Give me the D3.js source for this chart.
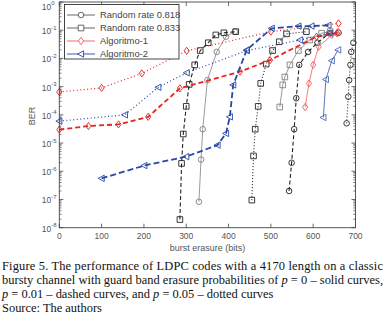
<!DOCTYPE html>
<html>
<head>
<meta charset="utf-8">
<script src="https://cdn.jsdelivr.net/npm/d3@7"></script>
<style>
	body { margin: 0; background: #fff; }
	svg { display: block; }
	.tick-label { font-family: "Liberation Sans", Arial, sans-serif; font-size: 8.5px; fill: #555; }
	.legend-label { font-family: "Liberation Sans", Arial, sans-serif; font-size: 9.4px; fill: #444; }
	.caption { font-family: "Liberation Serif", "Times New Roman", serif; font-size: 13px; fill: #111; }
</style>
</head>
<body>
<div id="chart"></div>
<script>
// ---- data ----
let xTicks = [0, 100, 200, 300, 400, 500, 600, 700];
let yExponents = [0, -1, -2, -3, -4, -5, -6, -7, -8];

// Random rate 0.818 (circles)
let r818SolidX = [330, 335, 339, 350, 372, 394, 415];
let r818SolidY = [8.3e-8, 2.6e-6, 3.1e-5, 1.7e-3, 1.7e-2, 5.9e-2, 8.9e-2];
let r818DashX = [543, 549, 555, 560, 567, 588, 610, 638, 660];
let r818DashY = [2.0e-7, 2.0e-6, 3.1e-5, 3.9e-4, 5.9e-3, 1.7e-2, 3.6e-2, 7.8e-2, 8.1e-2];
let r818DotX = [679, 683, 685, 688, 690, 695];
let r818DotY = [5.0e-5, 4.4e-4, 1.7e-3, 5.9e-3, 1.7e-2, 3.6e-2];

// Random rate 0.833 (squares)
let r833SolidX = [521, 528, 533, 545, 565, 592, 620, 640];
let r833SolidY = [1.9e-4, 1.15e-3, 2.2e-3, 5.9e-3, 1.9e-2, 4.5e-2, 7.8e-2, 8.9e-2];
let r833DashX = [285, 289, 293, 300, 307, 320, 333, 352, 370, 389, 417];
let r833DashY = [1.95e-8, 1.9e-6, 2.1e-5, 2.0e-4, 1.2e-3, 5.9e-3, 1.9e-2, 3.6e-2, 6.8e-2, 8.1e-2, 8.9e-2];
let r833DotX = [455, 459, 463, 470, 476, 489, 504, 520, 537, 584];
let r833DotY = [9.5e-8, 3.5e-6, 3.1e-5, 2.0e-4, 1.3e-3, 6.3e-3, 1.9e-2, 3.9e-2, 7.4e-2, 8.9e-2];

// Algoritmo-1 (diamonds)
let alg1SolidX = [581, 590, 600, 613, 644, 659];
let alg1SolidY = [1.9e-4, 1.3e-3, 5.9e-3, 2.6e-2, 6.8e-2, 8.9e-2];
let alg1DashX = [0, 69, 140, 210, 285, 427, 498, 608, 656];
let alg1DashY = [3.0e-5, 4.0e-5, 4.6e-5, 8.5e-5, 8.7e-4, 3.4e-3, 8.7e-3, 5.9e-2, 7.8e-2];
let alg1DotX = [0, 100, 195, 301, 500, 660];
let alg1DotY = [6.5e-4, 9.0e-4, 2.95e-3, 1.86e-2, 8.9e-2, 1.74e-1];

// Algoritmo-2 (left triangles)
let alg2SolidX = [624, 630, 644, 659];
let alg2SolidY = [8.1e-5, 1.8e-3, 8.3e-3, 2.0e-2];
let alg2DashX = [100, 201, 300, 374, 394, 403, 411, 443, 502, 565, 596, 636];
let alg2DashY = [5.6e-7, 1.6e-6, 3.3e-6, 8.5e-6, 2.2e-5, 8.5e-5, 1.15e-3, 2.0e-2, 1.17e-1, 1.4e-1, 1.4e-1, 1.5e-1];
let alg2DotX = [0, 155, 234, 301, 443, 569, 640];
let alg2DotY = [6.0e-5, 1.0e-4, 9.5e-4, 3.1e-3, 1.9e-2, 4.5e-2, 7.9e-2];

let legendNames = ["Random rate 0.818", "Random rate 0.833", "Algoritmo-1", "Algoritmo-2"];

// caption lines; the first two are justified to the full width
let captionLines = [
	[["Figure 5. The performance of LDPC codes with a 4170 length on a classic", false]],
	[["bursty channel with guard band erasure probabilities of ", false], ["p", true], [" = 0 \u2013 solid curves,", false]],
	[["p", true], [" = 0.01 \u2013 dashed curves, and ", false], ["p", true], [" = 0.05 \u2013 dotted curves", false]],
	[["Source: The authors", false]]
];
let captionJustified = [true, true, false, false];

// ---- styles per series ----
let styles = {
	grayS:  { color: "#808080", width: 0.8, dash: null },
	blackD: { color: "#222", width: 1.1, dash: "4,2.5" },
	blackO: { color: "#222", width: 1.1, dash: "1,2" },
	redS:   { color: "#f25a5a", width: 0.8, dash: null },
	redD:   { color: "#e8231e", width: 1.8, dash: "5,3" },
	redO:   { color: "#e8231e", width: 1.2, dash: "1,2.5" },
	blueS:  { color: "#4a66b5", width: 0.9, dash: null },
	blueD:  { color: "#2848a6", width: 1.8, dash: "6,3" },
	blueO:  { color: "#2848a6", width: 1.2, dash: "1,2.5" }
};

let series = [
	{ x: r818SolidX, y: r818SolidY, style: styles.grayS, marker: "circle" },
	{ x: r818DashX, y: r818DashY, style: styles.blackD, marker: "circle" },
	{ x: r818DotX, y: r818DotY, style: styles.blackO, marker: "circle" },
	{ x: r833SolidX, y: r833SolidY, style: styles.grayS, marker: "square" },
	{ x: r833DashX, y: r833DashY, style: styles.blackD, marker: "square" },
	{ x: r833DotX, y: r833DotY, style: styles.blackO, marker: "square" },
	{ x: alg1SolidX, y: alg1SolidY, style: styles.redS, marker: "diamond" },
	{ x: alg1DashX, y: alg1DashY, style: styles.redD, marker: "diamond" },
	{ x: alg1DotX, y: alg1DotY, style: styles.redO, marker: "diamond" },
	{ x: alg2SolidX, y: alg2SolidY, style: styles.blueS, marker: "triangle" },
	{ x: alg2DashX, y: alg2DashY, style: styles.blueD, marker: "triangle" },
	{ x: alg2DotX, y: alg2DotY, style: styles.blueO, marker: "triangle" }
];

let legendItems = [
	{ color: "#555", marker: "circle" },
	{ color: "#555", marker: "square" },
	{ color: "#f25a5a", marker: "diamond" },
	{ color: "#2848a6", marker: "triangle" }
];

// ---- layout ----
let width = 385, height = 315;
let plot = { left: 59.3, right: 355.5, top: 2, bottom: 227.7 };

let svg = d3.select("#chart").append("svg")
	.attr("width", width)
	.attr("height", height);

let x = d3.scaleLinear().domain([0, 700]).range([plot.left, plot.right]);
let y = d3.scaleLog().domain([1e-8, 1]).range([plot.bottom, plot.top]);

// marker path at origin
function markerPath(type) {
	let p = d3.path();
	if (type === "circle") {
		p.arc(0, 0, 2.8, 0, 2 * Math.PI);
	} else if (type === "square") {
		p.rect(-2.8, -2.8, 5.6, 5.6);
	} else if (type === "diamond") {
		p.moveTo(0, -3.6); p.lineTo(2.6, 0); p.lineTo(0, 3.6); p.lineTo(-2.6, 0); p.closePath();
	} else {
		p.moveTo(-3.4, 0); p.lineTo(2.6, -3.2); p.lineTo(2.6, 3.2); p.closePath();
	}
	return p.toString();
}

// ---- axes box & ticks ----
let axisColor = "#444";
let g = svg.append("g");

// minor log ticks
let minor = [];
for (let e = -8; e < 0; e++) {
	for (let k = 2; k <= 9; k++) minor.push(k * Math.pow(10, e));
}
minor.forEach(v => {
	[[plot.left, plot.left + 2.2], [plot.right, plot.right - 2.2]].forEach(s => {
		g.append("line")
			.attr("x1", s[0]).attr("x2", s[1])
			.attr("y1", y(v)).attr("y2", y(v))
			.attr("stroke", axisColor).attr("stroke-width", 0.7);
	});
});

yExponents.forEach(e => {
	let v = Math.pow(10, e);
	[[plot.left, plot.left + 4], [plot.right, plot.right - 4]].forEach(s => {
		g.append("line")
			.attr("x1", s[0]).attr("x2", s[1])
			.attr("y1", y(v)).attr("y2", y(v))
			.attr("stroke", axisColor).attr("stroke-width", 0.8);
	});
	// keep the top label inside the picture
	let base = Math.max(y(v) + 4, 9.5);
	g.append("text")
		.attr("class", "tick-label")
		.attr("x", plot.left - 8)
		.attr("y", base)
		.attr("text-anchor", "end")
		.text("10");
	g.append("text")
		.attr("class", "tick-label")
		.attr("x", plot.left - 8)
		.attr("y", base - 4.5)
		.style("font-size", "6px")
		.text(e);
});

xTicks.forEach(v => {
	[[plot.bottom, plot.bottom - 4], [plot.top, plot.top + 4]].forEach(s => {
		g.append("line")
			.attr("x1", x(v)).attr("x2", x(v))
			.attr("y1", s[0]).attr("y2", s[1])
			.attr("stroke", axisColor).attr("stroke-width", 0.8);
	});
	g.append("text")
		.attr("class", "tick-label")
		.attr("x", x(v))
		.attr("y", plot.bottom + 11)
		.attr("text-anchor", "middle")
		.text(v);
});

// axis titles
svg.append("text")
	.attr("class", "tick-label")
	.attr("x", (plot.left + plot.right) / 2)
	.attr("y", plot.bottom + 23)
	.attr("text-anchor", "middle")
	.style("font-size", "9px")
	.text("burst erasure (bits)");

svg.append("text")
	.attr("class", "tick-label")
	.attr("transform", "translate(" + 34.5 + "," + 116 + ") rotate(-90)")
	.attr("text-anchor", "middle")
	.style("font-size", "9px")
	.text("BER");

// ---- curves ----
let line = d3.line()
	.x(d => x(d[0]))
	.y(d => y(d[1]));

let curves = svg.append("g");

series.forEach(s => {
	let pts = s.x.map((v, i) => [v, s.y[i]]);
	curves.append("path")
		.datum(pts)
		.attr("d", line)
		.attr("fill", "none")
		.attr("stroke", s.style.color)
		.attr("stroke-width", s.style.width)
		.attr("stroke-dasharray", s.style.dash);

	curves.selectAll(null)
		.data(pts)
		.enter().append("path")
		.attr("d", markerPath(s.marker))
		.attr("transform", d => "translate(" + x(d[0]) + "," + y(d[1]) + ")")
		.attr("fill", "none")
		.attr("stroke", s.style.color)
		.attr("stroke-width", 0.9);
});

// frame on top
svg.append("rect")
	.attr("x", plot.left).attr("y", plot.top)
	.attr("width", plot.right - plot.left)
	.attr("height", plot.bottom - plot.top)
	.attr("fill", "none")
	.attr("stroke", axisColor)
	.attr("stroke-width", 0.9);

// ---- legend ----
let legend = svg.append("g");
legend.append("rect")
	.attr("x", 64.5).attr("y", 4.5)
	.attr("width", 114.5).attr("height", 54.5)
	.attr("fill", "#fff")
	.attr("stroke", "#333")
	.attr("stroke-width", 0.9);

legendNames.forEach((name, i) => {
	let ly = 15 + i * 13;
	let item = legendItems[i];
	legend.append("line")
		.attr("x1", 67).attr("x2", 95)
		.attr("y1", ly).attr("y2", ly)
		.attr("stroke", item.color)
		.attr("stroke-width", 0.9);
	legend.append("path")
		.attr("d", markerPath(item.marker))
		.attr("transform", "translate(81," + ly + ")")
		.attr("fill", "#fff")
		.attr("stroke", item.color)
		.attr("stroke-width", 0.9);
	legend.append("text")
		.attr("class", "legend-label")
		.attr("x", 100)
		.attr("y", ly + 3.3)
		.text(name);
});

// ---- caption ----
let captionWidth = 381;
let captionTexts = captionLines.map((parts, i) => {
	let t = svg.append("text")
		.attr("class", "caption")
		.attr("x", 2)
		.attr("y", 269.5 + i * 14.3);
	parts.forEach(p => {
		t.append("tspan")
			.style("font-style", p[1] ? "italic" : "normal")
			.text(p[0]);
	});
	return t;
});

// pick a size at which the widest justified line fits, then justify
let widest = d3.max(captionTexts.filter((t, i) => captionJustified[i]), t => t.node().getComputedTextLength());
let captionSize = 13 * (captionWidth - 2) / widest;
captionTexts.forEach((t, i) => {
	t.style("font-size", captionSize + "px");
	if (captionJustified[i]) {
		t.attr("textLength", captionWidth).attr("lengthAdjust", "spacing");
	}
});
</script>
</body>
</html>
